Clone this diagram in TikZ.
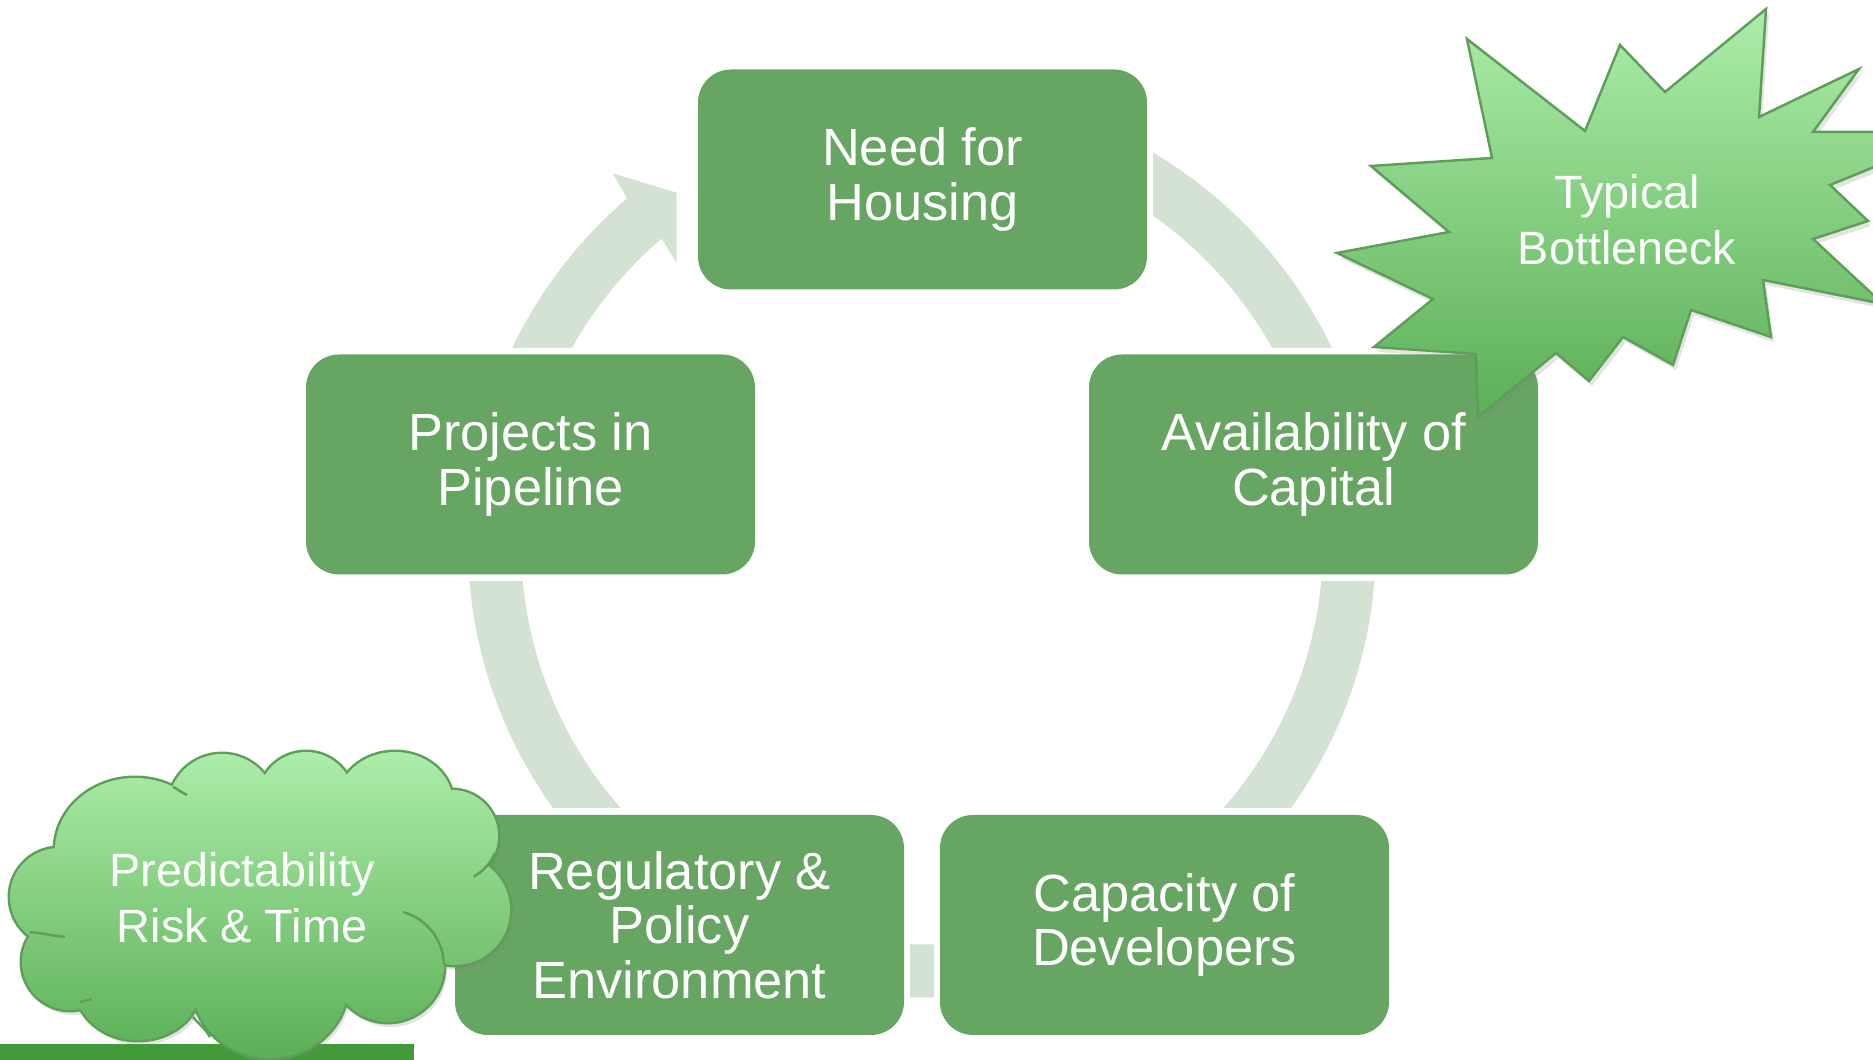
\documentclass[tikz,border=0pt]{standalone}
\usepackage{fontspec}
\setmainfont{Liberation Sans}
\usetikzlibrary{shadows}
\definecolor{stage-green}{HTML}{67A562}
\definecolor{ring-grey}{HTML}{D4E2D3}
\definecolor{burst-light}{HTML}{ACEDA9}
\definecolor{burst-dark}{HTML}{5CAF57}
\definecolor{burst-edge}{HTML}{5E9E58}
\definecolor{bar-green}{HTML}{429A38}

\begin{document}
\begin{tikzpicture}[
    stage/.style={fill=stage-green, rounded corners=0.33cm, minimum width=4.49cm,
                  minimum height=2.2cm, align=center, text=white,
                  font=\fontsize{14.9}{15.5}\selectfont},
    ring/.style={fill=ring-grey},
    callout/.style={top color=burst-light, bottom color=burst-dark},
    softshadow/.style={drop shadow={opacity=0.22, shadow xshift=0.03cm, shadow yshift=-0.05cm}},
    calloutlabel/.style={align=center, text=white, font=\fontsize{13.3}{16}\selectfont}]
  \useasboundingbox (0,0) rectangle (18.73,10.60);
  \coordinate (hub) at (9.22,5.165);

  % ring pieces between the stages
  \foreach \xa/\ya/\xb/\yb in {11.53/7.12/18.73/10.6, 9.22/2.525/18.73/4.78,
                               9.10/0/9.34/2.0, 0/2.525/9.22/4.78} {
    \begin{scope}
      \clip (\xa,\ya) rectangle (\xb,\yb);
      \fill[ring, even odd rule] (hub) circle (4.54) (hub) circle (4.01);
    \end{scope}
  }
  % piece with the head, back into the top stage
  \begin{scope}
    \clip (0,7.12) rectangle (9.22,10.6);
    \fill[ring] (hub) ++(165:4.54) arc[start angle=165, end angle=130.5, radius=4.54]
      -- (6.127,8.867) -- (6.767,8.673) -- (6.767,7.967) -- (6.616,8.214)
      arc[start angle=130.5, end angle=165, radius=4.01] -- cycle;
  \end{scope}

  \node[stage] (need)  at (9.225,8.805) {Need for\\Housing};
  \node[stage] (avail) at (13.135,5.955) {Availability of\\Capital};
  \node[stage] (cap)   at (11.645,1.35) {Capacity of\\Developers};
  \node[stage] (reg)   at (6.795,1.35) {Regulatory \&\\Policy\\Environment};
  \node[stage] (proj)  at (5.305,5.955) {Projects in\\Pipeline};

  \fill[bar-green] (0,0) rectangle (4.14,0.16);

  % cloud = union of puffs
  \def\puffs{1.35/2.10/.80/.72, 0.59/1.63/.49/.49, 0.70/0.98/.48/.48,
             1.38/0.72/.62/.52, 2.70/0.76/.78/.74, 3.88/0.94/.56/.56,
             4.55/1.50/.55/.55, 4.52/2.24/.46/.46, 3.95/2.57/.58/.51,
             3.06/2.60/.48/.48, 2.22/2.52/.54/.54, 2.60/1.60/1.8/1.0}
  \draw[burst-edge, line width=1.4pt, softshadow]
    foreach \cx/\cy/\rx/\ry in \puffs {(\cx,\cy) ellipse[x radius=\rx, y radius=\ry]};
  \shade[callout]
    foreach \cx/\cy/\rx/\ry in \puffs {(\cx,\cy) ellipse[x radius=\rx, y radius=\ry]};
  \draw[burst-edge, line width=0.7pt]
    (3.88,0.94) ++(74:0.56) arc[start angle=74, end angle=2, radius=0.56]
    (4.52,2.24) ++(-22:0.46) arc[start angle=-22, end angle=-62, radius=0.46]
    (0.30,1.28) to[out=-5, in=175] (0.65,1.23)
    (0.80,0.58) -- (0.92,0.61)
    (1.73,2.73) to[out=-25, in=155] (1.87,2.65)
    (1.93,0.43) to[out=-50, in=120] (2.10,0.23);
  \node[calloutlabel] (risk) at (2.42,1.62) {Predictability\\Risk \& Time};

  % starburst
  \path[callout, draw=burst-edge, line width=0.7pt, softshadow]
    (17.66,10.51) -- (17.59,9.43) -- (18.59,9.91) -- (18.13,9.28) -- (19.60,9.28)
    -- (18.30,8.75) -- (18.68,8.39) -- (18.13,8.21) -- (18.83,7.56) -- (17.63,7.80)
    -- (17.71,7.23) -- (16.91,7.50) -- (16.73,6.95) -- (16.23,7.23) -- (15.89,6.79)
    -- (15.56,7.07) -- (14.78,6.43) -- (14.76,7.06) -- (13.74,7.13) -- (14.33,7.61)
    -- (13.37,8.07) -- (14.49,8.28) -- (13.71,8.94) -- (14.92,9.02) -- (14.67,10.21)
    -- (15.85,9.29) -- (16.20,10.15) -- (16.65,9.68) -- cycle;
  \node[calloutlabel] (bottleneck) at (16.27,8.40) {Typical\\Bottleneck};
\end{tikzpicture}
\end{document}
